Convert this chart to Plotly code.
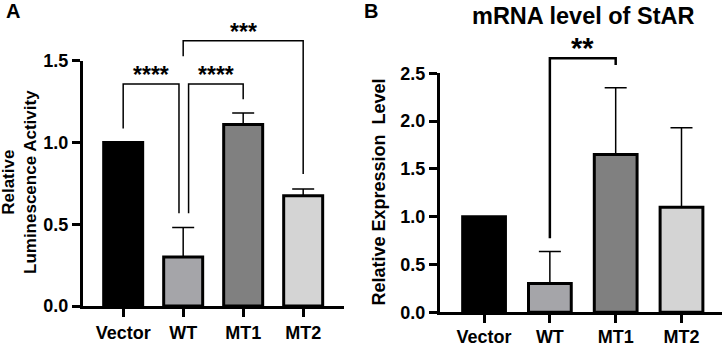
import plotly.graph_objects as go

categories = ["Vector", "WT", "MT1", "MT2"]
bar_colors = ["#000000", "#a5a5a9", "#808080", "#d4d4d4"]

# Panel A: relative luminescence activity
a_values = [1.00, 0.30, 1.11, 0.675]
a_err = [0.0, 0.18, 0.07, 0.04]
# brackets: (x_left, x_right, y_bar, y_left_end, y_right_end, label)
a_brackets = [
    (0.0, 0.93, 1.357, 1.086, 0.567, "****"),
    (1.09, 2.0, 1.357, 0.567, 1.265, "****"),
    (1.0, 3.0, 1.622, 1.528, 0.807, "***"),
]

# Panel B: mRNA level of StAR
b_values = [1.00, 0.30, 1.65, 1.10]
b_err = [0.0, 0.335, 0.70, 0.83]
b_brackets = [
    (1.0, 2.0, 2.657, 0.774, 2.587, "**"),
]

FONT = "Liberation Sans, Arial, sans-serif"
x_idx = list(range(len(categories)))

# layout geometry
A_XDOM = [0.1143, 0.4738]
A_YDOM = [0.113, 0.824]
A_YMAX = 1.5
B_XDOM = [0.606, 0.994]
B_YDOM = [0.0948, 0.7875]
B_YMAX = 2.5

fig = go.Figure()

def add_bars(values, errs, xa, ya):
    fig.add_trace(go.Bar(
        x=x_idx, y=values, width=0.65,
        marker=dict(color=bar_colors, line=dict(color="black", width=3)),
        error_y=dict(type="data", array=errs, arrayminus=[0] * len(errs),
                     symmetric=False, color="black", thickness=1.5, width=11),
        xaxis=xa, yaxis=ya, showlegend=False, hoverinfo="skip",
    ))

def add_brackets(brackets, xa, ya, lw, star_size, shift):
    for (x0, x1, yb, yl, yr, lab) in brackets:
        fig.add_trace(go.Scatter(
            x=[x0, x0, x1, x1], y=[yl, yb, yb, yr], mode="lines",
            line=dict(color="black", width=lw),
            xaxis=xa, yaxis=ya, showlegend=False, hoverinfo="skip",
        ))
        fig.add_annotation(
            x=(x0 + x1) / 2, y=yb, xref=xa, yref=ya, text=lab, showarrow=False,
            xanchor="center", yanchor="middle", yshift=shift,
            font=dict(family=FONT, size=star_size, color="black", weight="bold"),
        )

add_bars(a_values, a_err, "x", "y")
add_bars(b_values, b_err, "x2", "y2")
# brackets live on invisible companion axes that share the scale but extend to the top
add_brackets(a_brackets, "x", "y3", 1.5, 23, 9)
add_brackets(b_brackets, "x2", "y4", 2.5, 29, 10)

axis_common = dict(
    showline=True, linecolor="black", linewidth=3, ticks="outside",
    ticklen=8, tickwidth=3, tickcolor="black", showgrid=False, zeroline=False,
    automargin=False,
    tickfont=dict(family=FONT, size=18, color="black", weight="bold"),
)

def ext_range(dom, ymax):
    return [0, ymax * (1.0 - dom[0]) / (dom[1] - dom[0])]

hidden = dict(visible=False, showgrid=False, zeroline=False, automargin=False)

fig.update_layout(
    width=726, height=345, margin=dict(l=0, r=0, t=0, b=0, autoexpand=False),
    paper_bgcolor="white", plot_bgcolor="rgba(0,0,0,0)", bargap=0.35,
    xaxis=dict(domain=A_XDOM, range=[-0.67, 3.68], tickvals=x_idx,
               ticktext=categories, anchor="y", **axis_common),
    yaxis=dict(domain=A_YDOM, range=[0, A_YMAX], dtick=0.5, tickformat=".1f",
               anchor="x", **axis_common),
    xaxis2=dict(domain=B_XDOM, range=[-0.67, 3.61], tickvals=x_idx,
                ticktext=categories, anchor="y2", ticklabelstandoff=-2, **axis_common),
    yaxis2=dict(domain=B_YDOM, range=[0, B_YMAX], dtick=0.5, tickformat=".1f",
                anchor="x2", **axis_common),
    yaxis3=dict(domain=[A_YDOM[0], 1.0], range=ext_range(A_YDOM, A_YMAX), anchor="x", **hidden),
    yaxis4=dict(domain=[B_YDOM[0], 1.0], range=ext_range(B_YDOM, B_YMAX), anchor="x2", **hidden),
)

def label(x_px, y_px, text, size, angle=0):
    fig.add_annotation(x=x_px / 726, y=1 - y_px / 345, xref="paper", yref="paper",
                       text=text, textangle=angle, showarrow=False,
                       xanchor="center", yanchor="middle",
                       font=dict(family=FONT, size=size, color="black", weight="bold"))

# axis titles, panel letters and title
label(19, 182, "Relative<br>Luminescence Activity", 17, -90)
label(378, 192.5, "Relative Expression\u00a0 Level", 18, -90)
label(12.5, 11, "A", 20)
label(370.5, 11, "B", 20)
label(583, 16, "mRNA level of StAR", 23.5)

fig.write_html("out.html", config={"displayModeBar": False},
               post_script="document.body.style.margin='0';")
